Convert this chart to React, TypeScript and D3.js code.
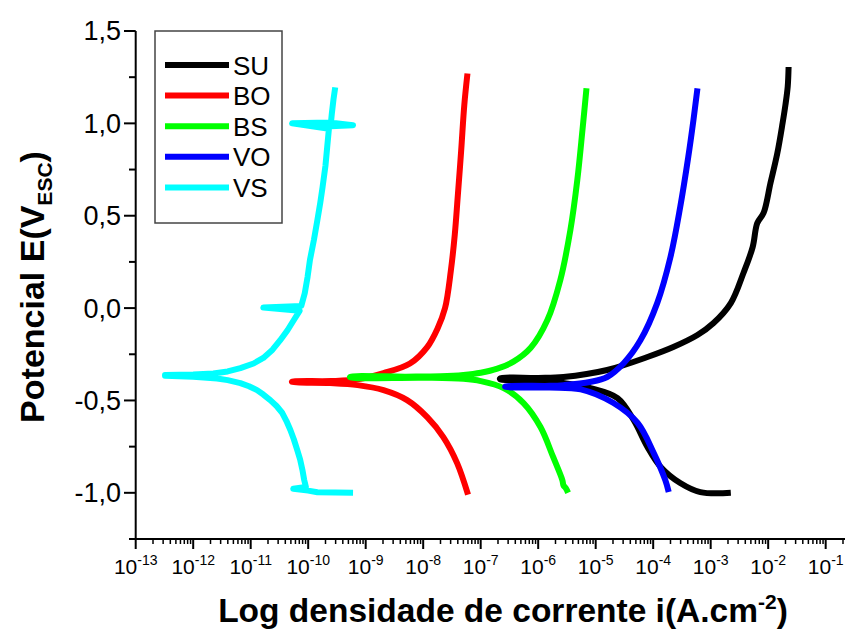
import React from "react";
import * as d3 from "d3";

// ---- data: log10(current density, A/cm2) and potential (V vs ESC) ----
const suLogI = [-2.65, -3.18, -3.53, -3.87, -4.10, -4.34, -4.62, -5.09, -5.56, -6.0, -6.66, -6.66, -6.0, -5.56, -4.80, -4.10, -3.65, -3.23, -2.95, -2.65, -2.43, -2.27, -2.19, -2.08, -1.96, -1.84, -1.75, -1.70, -1.66, -1.645];
const suE = [-1.0, -0.996, -0.947, -0.86, -0.752, -0.606, -0.487, -0.433, -0.406, -0.392, -0.386, -0.38, -0.378, -0.373, -0.335, -0.265, -0.211, -0.146, -0.081, 0.027, 0.19, 0.33, 0.46, 0.515, 0.677, 0.84, 1.0, 1.10, 1.20, 1.305];

const boLogI = [-7.22, -7.41, -7.65, -7.93, -8.28, -8.69, -9.14, -9.62, -10.28, -10.28, -9.6, -9.14, -8.69, -8.23, -7.93, -7.75, -7.62, -7.52, -7.45, -7.40, -7.34, -7.285, -7.23];
const boE = [-1.01, -0.839, -0.698, -0.59, -0.498, -0.444, -0.417, -0.406, -0.40, -0.398, -0.395, -0.385, -0.352, -0.30, -0.211, -0.11, 0.0, 0.2, 0.4, 0.6, 0.85, 1.10, 1.27];

const bsLogI = [-5.48, -5.52, -5.56, -5.58, -5.74, -5.96, -6.255, -6.60, -7.0, -7.30, -8.0, -9.27, -9.27, -8.3, -7.70, -7.30, -7.0, -6.71, -6.43, -6.13, -5.84, -5.615, -5.44, -5.32, -5.23, -5.16];
const bsE = [-1.0, -0.975, -0.96, -0.931, -0.806, -0.644, -0.514, -0.433, -0.395, -0.383, -0.377, -0.375, -0.372, -0.371, -0.369, -0.362, -0.35, -0.328, -0.29, -0.215, -0.065, 0.152, 0.423, 0.693, 0.964, 1.19];

const voLogI = [-3.73, -3.79, -3.99, -4.27, -4.69, -5.26, -5.8, -6.57, -6.57, -5.8, -5.56, -5.1, -4.80, -4.51, -4.22, -3.93, -3.70, -3.53, -3.39, -3.30, -3.23];
const voE = [-0.996, -0.931, -0.785, -0.622, -0.514, -0.44, -0.43, -0.427, -0.424, -0.421, -0.417, -0.40, -0.373, -0.297, -0.173, 0.027, 0.276, 0.547, 0.818, 1.018, 1.19];

const vsLogI = [-9.22, -9.84, -10.0, -10.26, -10.04, -10.07, -10.10, -10.14, -10.19, -10.25, -10.31, -10.38, -10.45, -10.55, -10.66, -10.78, -10.89, -11.03, -11.18, -11.4, -11.585, -12.0, -12.49,
  -12.49, -12.0, -11.65, -11.4, -11.18, -10.95, -10.78, -10.62, -10.49, -10.36, -10.26, -10.15, -10.78, -10.12, -10.06, -10.01, -9.97, -9.90, -9.84, -9.79, -9.75, -9.70, -9.67, -9.64, -10.28, -9.63, -9.22, -9.61, -9.59, -9.56, -9.53];
const vsE = [-1.0, -0.997, -0.988, -0.978, -0.968, -0.93, -0.877, -0.82, -0.769, -0.71, -0.66, -0.61, -0.568, -0.53, -0.498, -0.468, -0.444, -0.423, -0.406, -0.39, -0.381, -0.372, -0.366,
  -0.362, -0.360, -0.354, -0.343, -0.325, -0.30, -0.270, -0.225, -0.175, -0.12, -0.07, -0.015, 0.003, 0.012, 0.08, 0.17, 0.26, 0.37, 0.477, 0.57, 0.655, 0.77, 0.87, 0.97, 1.0, 1.005, 0.99, 0.985, 1.05, 1.13, 1.195];

const seriesNames = ["SU", "BO", "BS", "VO", "VS"];
const seriesColors = ["#000000", "#ff0000", "#00ff00", "#0000ff", "#00ffff"];
const seriesLogI = [suLogI, boLogI, bsLogI, voLogI, vsLogI];
const seriesE = [suE, boE, bsE, voE, vsE];

const yTickValues = [-1.0, -0.5, 0.0, 0.5, 1.0, 1.5];
const yTickLabels = ["-1,0", "-0,5", "0,0", "0,5", "1,0", "1,5"];
const yMinorValues = [-1.25, -0.75, -0.25, 0.25, 0.75, 1.25];
const xDecades = [-13, -12, -11, -10, -9, -8, -7, -6, -5, -4, -3, -2, -1];

const FONT = "Arial, 'Liberation Sans', sans-serif";

export default function App() {
  const x = d3.scaleLog().domain([1e-13, Math.pow(10, -0.664)]).range([135.7, 845]);
  const y = d3.scaleLinear().domain([-1.25, 1.5]).range([539, 31]);

  const minorX: number[] = [];
  xDecades.forEach((d) => {
    for (let m = 2; m <= 9; m++) {
      const v = m * Math.pow(10, d);
      if (v <= x.domain()[1]) minorX.push(v);
    }
  });

  const lineGen = (curve: any) =>
    d3
      .line<[number, number]>()
      .x((p) => x(Math.pow(10, p[0])))
      .y((p) => y(p[1]))
      .curve(curve);

  return (
    <svg
      width={845}
      height={630}
      style={{ position: "absolute", left: 0, top: 0, background: "#fff" }}
      fontFamily={FONT}
    >
      <rect x={0} y={0} width={845} height={630} fill="#fff" />
      {/* series */}
      {seriesNames.map((name, k) => {
        const pts = seriesLogI[k].map((v, i) => [v, seriesE[k][i]] as [number, number]);
        const gen = lineGen(name === "VS" ? d3.curveLinear : d3.curveCatmullRom.alpha(0.5));
        return (
          <path
            key={name}
            d={gen(pts) || ""}
            fill="none"
            stroke={seriesColors[k]}
            strokeWidth={6}
            strokeLinejoin="round"
            strokeLinecap="butt"
          />
        );
      })}

      {/* axes */}
      <line x1={135.7} x2={135.7} y1={31} y2={539} stroke="#000" strokeWidth={2} />
      <line x1={135.7} x2={845} y1={539} y2={539} stroke="#000" strokeWidth={2} />
      {yTickValues.map((v, i) => (
        <g key={"yt" + i}>
          <line x1={124} x2={135.7} y1={y(v)} y2={y(v)} stroke="#000" strokeWidth={2} />
          <text x={121} y={y(v)} dy="0.35em" textAnchor="end" fontSize={27}>
            {yTickLabels[i]}
          </text>
        </g>
      ))}
      {yMinorValues.map((v, i) => (
        <line key={"ym" + i} x1={129} x2={135.7} y1={y(v)} y2={y(v)} stroke="#000" strokeWidth={2} />
      ))}
      {minorX.map((v, i) => (
        <line key={"xm" + i} x1={x(v)} x2={x(v)} y1={539} y2={544} stroke="#000" strokeWidth={1.5} />
      ))}
      {xDecades.map((d) => (
        <g key={"xt" + d}>
          <line x1={x(Math.pow(10, d))} x2={x(Math.pow(10, d))} y1={539} y2={549} stroke="#000" strokeWidth={2} />
          <text x={x(Math.pow(10, d))} y={574} textAnchor="middle" fontSize={21}>
            10
            <tspan dy={-9} fontSize={14}>
              {String(d)}
            </tspan>
          </text>
        </g>
      ))}

      {/* axis titles */}
      <text x={503} y={622} textAnchor="middle" fontSize={33.5} fontWeight="bold">
        Log densidade de corrente i(A.cm
        <tspan dy={-13} fontSize={21}>-2</tspan>
        <tspan dy={13}>)</tspan>
      </text>
      <text
        transform="translate(44,287) rotate(-90)"
        textAnchor="middle"
        fontSize={34}
        fontWeight="bold"
      >
        Potencial E(V
        <tspan dy={8} fontSize={21}>ESC</tspan>
        <tspan dy={-8}>)</tspan>
      </text>

      {/* legend */}
      <rect x={155} y={31} width={127} height={192} fill="#fff" stroke="#444" strokeWidth={1.5} />
      {seriesNames.map((name, k) => {
        const ly = 65 + k * 30.6;
        return (
          <g key={"lg" + name}>
            <line x1={165} x2={229} y1={ly} y2={ly} stroke={seriesColors[k]} strokeWidth={6} />
            <text x={233} y={ly + 9.5} fontSize={26}>
              {name}
            </text>
          </g>
        );
      })}
    </svg>
  );
}
